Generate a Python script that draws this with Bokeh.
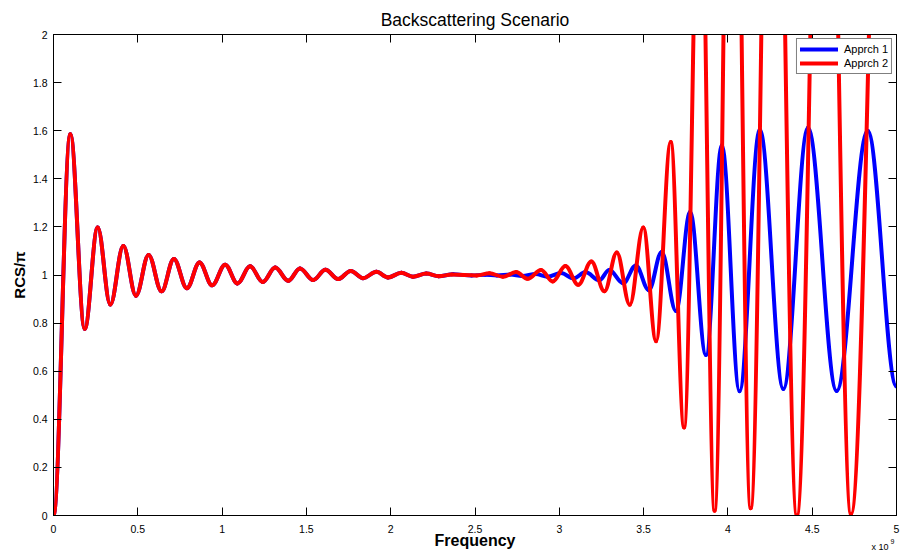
import numpy as np
from bokeh.plotting import figure
from bokeh.models import Label, LinearAxis, FixedTicker, Range1d, ColumnDataSource, CustomLabelingPolicy
from bokeh.embed import file_html
from bokeh.resources import INLINE

# ---------------- data (frequency in units of 1e9 Hz) ----------------
title_text = "Backscattering Scenario"
x_label_text = "Frequency"
y_label_text = "RCS/π"
series_names = ["Apprch 1", "Apprch 2"]

x_ticks = [0, 0.5, 1, 1.5, 2, 2.5, 3, 3.5, 4, 4.5, 5]
x_tick_labels = ["0", "0.5", "1", "1.5", "2", "2.5", "3", "3.5", "4", "4.5", "5"]
y_ticks = [0, 0.2, 0.4, 0.6, 0.8, 1, 1.2, 1.4, 1.6, 1.8, 2]
y_tick_labels = ["0", "0.2", "0.4", "0.6", "0.8", "1", "1.2", "1.4", "1.6", "1.8", "2"]

# turning points (peaks / troughs) shared by both approaches
common_freq = [0.000, 0.100, 0.185, 0.262, 0.337, 0.414, 0.489, 0.564, 0.641, 0.714,
               0.791, 0.866, 0.941, 1.018, 1.091, 1.166, 1.241, 1.315, 1.392, 1.462,
               1.540, 1.613, 1.688, 1.763, 1.836, 1.915, 1.984, 2.063, 2.132, 2.211, 2.285]
common_rcs = [0.000, 1.585, 0.776, 1.197, 0.877, 1.121, 0.914, 1.083, 0.932, 1.067,
              0.945, 1.052, 0.957, 1.043, 0.965, 1.036, 0.971, 1.031, 0.976, 1.027,
              0.979, 1.022, 0.983, 1.017, 0.987, 1.013, 0.990, 1.009, 0.993, 1.006, 0.995]

# Apprch 1 turning points after 2.3e9
apprch1_tail_freq = [2.370, 2.480, 2.560, 2.630, 2.710, 2.780, 2.860, 2.930, 3.010, 3.085,
                     3.155, 3.237, 3.296, 3.379, 3.454, 3.531, 3.607, 3.692, 3.776, 3.870,
                     3.964, 4.069, 4.189, 4.329, 4.475, 4.645, 4.829, 5.000]
apprch1_tail_rcs = [1.003, 0.998, 1.001, 0.998, 1.002, 0.996, 1.004, 0.993, 1.008, 0.986,
                    1.012, 0.978, 1.021, 0.966, 1.040, 0.937, 1.096, 0.850, 1.262, 0.667,
                    1.540, 0.517, 1.605, 0.526, 1.612, 0.518, 1.600, 0.536]

# Apprch 2 turning points after 2.3e9
apprch2_tail_freq = [2.363, 2.510, 2.586, 2.665, 2.744, 2.813, 2.892, 2.961, 3.036, 3.113,
                     3.190, 3.268, 3.341, 3.418, 3.498, 3.574, 3.661, 3.740, 3.834, 3.921,
                     4.027, 4.135, 4.266, 4.409, 4.574, 4.730, 4.950, 5.000]
apprch2_tail_rcs = [1.002, 0.998, 1.007, 0.993, 1.012, 0.984, 1.021, 0.973, 1.037, 0.959,
                    1.056, 0.932, 1.094, 0.876, 1.198, 0.725, 1.553, 0.366, 2.900, 0.020,
                    4.000, 0.030, 4.200, 0.000, 4.200, 0.005, 4.200, 4.000]

apprch1_freq = common_freq + apprch1_tail_freq
apprch1_rcs = common_rcs + apprch1_tail_rcs
apprch2_freq = common_freq + apprch2_tail_freq
apprch2_rcs = common_rcs + apprch2_tail_rcs

FONT = "Liberation Sans"


def smooth_source(xs, ys, k=0.3634):
    """Bezier segments between consecutive turning points, horizontal tangents."""
    xs = np.asarray(xs, float)
    ys = np.asarray(ys, float)
    x0, x1 = xs[:-1], xs[1:]
    y0, y1 = ys[:-1], ys[1:]
    dx = x1 - x0
    return ColumnDataSource(dict(x0=x0, y0=y0, x1=x1, y1=y1,
                                 cx0=x0 + k * dx, cy0=y0,
                                 cx1=x1 - k * dx, cy1=y1))


p = figure(width=900, height=554, output_backend="svg", toolbar_location=None,
           x_range=Range1d(0, 5), y_range=Range1d(0, 2),
           min_border_left=53, min_border_right=3, min_border_top=32, min_border_bottom=39,
           background_fill_color="white", border_fill_color="white")
p.xgrid.visible = False
p.ygrid.visible = False
p.outline_line_color = "black"
p.outline_line_width = 1

for ax, ticks, labels in ((p.xaxis[0], x_ticks, x_tick_labels), (p.yaxis[0], y_ticks, y_tick_labels)):
    ax.ticker = FixedTicker(ticks=ticks)
    ax.major_label_overrides = {t: l for t, l in zip(ticks, labels)}
    ax.major_tick_in = 8
    ax.major_tick_out = 0
    ax.minor_tick_line_color = None
    ax.axis_line_color = "black"
    ax.axis_line_width = 1
    ax.major_tick_line_color = "black"
    ax.major_label_text_font = FONT
    ax.major_label_text_font_size = "10.5px"
    ax.major_label_text_color = "black"
    ax.axis_label_text_font = FONT
    ax.axis_label_text_font_size = "15px"
    ax.axis_label_text_font_style = "bold"
    ax.axis_label_text_color = "black"
p.xaxis.major_label_standoff = 9
p.yaxis.major_label_standoff = 6
p.yaxis.axis_label = y_label_text
p.yaxis.axis_label_standoff = 2

hide_all = "for (const i of indices) { indices.unset(i) }\nreturn indices"
top_ax = LinearAxis(ticker=FixedTicker(ticks=x_ticks), major_tick_in=8, major_tick_out=0,
                    minor_tick_line_color=None, major_label_text_font_size="1px",
                    major_label_standoff=0, axis_line_color="black",
                    major_label_policy=CustomLabelingPolicy(code=hide_all))
right_ax = LinearAxis(ticker=FixedTicker(ticks=y_ticks), major_tick_in=8, major_tick_out=0,
                      minor_tick_line_color=None, major_label_text_font_size="1px",
                      major_label_standoff=0, axis_line_color="black",
                      major_label_policy=CustomLabelingPolicy(code=hide_all))
p.add_layout(top_ax, "above")
p.add_layout(right_ax, "right")

common = dict(x0="x0", y0="y0", x1="x1", y1="y1", cx0="cx0", cy0="cy0", cx1="cx1", cy1="cy1",
              line_width=4, line_cap="round")
p.bezier(source=smooth_source(apprch1_freq, apprch1_rcs), line_color="#0000ff",
         legend_label=series_names[0], **common)
p.bezier(source=smooth_source(apprch2_freq, apprch2_rcs), line_color="#ff0000",
         legend_label=series_names[1], **common)

lg = p.legend[0]
lg.location = "top_right"
lg.margin = 4
lg.padding = 3
lg.spacing = 0
lg.label_height = 14
lg.glyph_height = 14
lg.glyph_width = 38
lg.label_standoff = 6
lg.border_line_color = "black"
lg.border_line_width = 1
lg.background_fill_color = "white"
lg.background_fill_alpha = 1
lg.label_text_font = FONT
lg.label_text_font_size = "11px"
lg.label_text_color = "black"

# texts outside the frame: labels placed in side panels (so they are not clipped),
# positioned relative to the axes box through data coordinates + pixel offsets
p.add_layout(Label(x=2.5, y=2, y_offset=15, text=title_text, text_align="center",
                   text_baseline="alphabetic", text_font=FONT, text_font_size="17.5px",
                   text_color="black"), "above")
p.add_layout(Label(x=2.5, y=0, y_offset=-25, text=x_label_text, text_align="center",
                   text_baseline="alphabetic", text_font=FONT, text_font_size="16px",
                   text_font_style="bold", text_color="black"), "below")
p.add_layout(Label(x=5, y=0, x_offset=-25, y_offset=-31, text="x 10", text_align="left",
                   text_baseline="alphabetic", text_font=FONT, text_font_size="9px",
                   text_color="black"), "above")
p.add_layout(Label(x=5, y=0, x_offset=-6, y_offset=-26, text="9", text_align="left",
                   text_baseline="alphabetic", text_font=FONT, text_font_size="7px",
                   text_color="black"), "left")

open("out.html", "w").write(file_html(p, INLINE))
